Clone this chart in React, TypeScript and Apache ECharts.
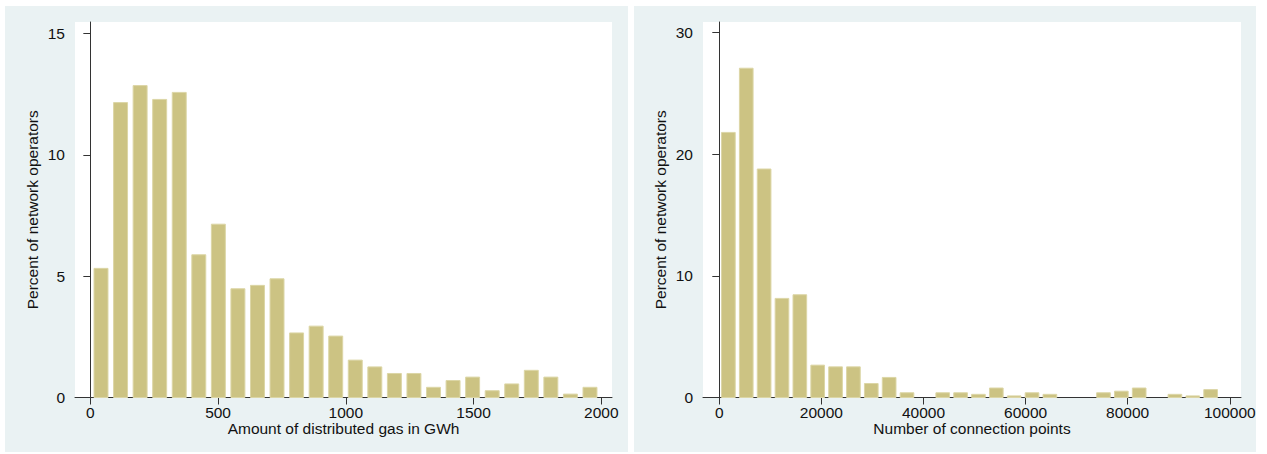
import React, { useEffect, useRef } from "react";
import * as echarts from "echarts";

// Left histogram: amount of distributed gas (GWh)
const gasBinStart = 3.5;
const gasBinWidth = 76.56;
const gasPercent = [
  5.32, 12.15, 12.85, 12.28, 12.57, 5.88, 7.14, 4.48, 4.62, 4.89, 2.66, 2.94, 2.53,
  1.54, 1.26, 0.99, 0.99, 0.42, 0.7, 0.84, 0.28, 0.56, 1.12, 0.84, 0.14, 0.42,
];
const gasXTicks = [0, 500, 1000, 1500, 2000];
const gasYTicks = [0, 5, 10, 15];

// Right histogram: number of connection points
const connBinStart = 33.5;
const connBinWidth = 3499;
const connPercent = [
  21.8, 27.08, 18.79, 8.15, 8.45, 2.66, 2.52, 2.52, 1.15, 1.65, 0.39, 0, 0.39, 0.39,
  0.26, 0.78, 0.13, 0.39, 0.26, 0, 0, 0.39, 0.52, 0.78, 0, 0.26, 0.13, 0.65,
];
const connXTicks = [0, 20000, 40000, 60000, 80000, 100000];
const connYTicks = [0, 10, 20, 30];

const yTitle = "Percent of network operators";
const gasXTitle = "Amount of distributed gas in GWh";
const connXTitle = "Number of connection points";

const FONT = "'Liberation Sans', Arial, Helvetica, sans-serif";
const FS = 15.5;
const TEXT = "#111";
const AXIS = "#333";
const PANEL = "#EAF2F3";
const BAR = "#CCC383";
const BAR_EDGE = "#DCD6A6";

function histData(start: number, width: number, values: number[]) {
  return values.map((v, i) => [start + width * (i + 0.5), v]);
}

function makeRender(binWidth: number, frac: number) {
  return (params: any, api: any) => {
    const c = api.value(0);
    const v = api.value(1);
    if (!v) return null;
    const half = (binWidth * frac) / 2;
    const p0 = api.coord([c - half, v]);
    const p1 = api.coord([c + half, 0]);
    return {
      type: "rect",
      shape: { x: p0[0], y: p0[1], width: p1[0] - p0[0], height: p1[1] - p0[1] },
      style: { fill: BAR, stroke: BAR_EDGE, lineWidth: 1 },
    };
  };
}

const plain = (v: number) => String(v);

function xAxis(gridIndex: number, min: number, max: number, ticks: number[], name: string) {
  return {
    type: "value",
    gridIndex,
    min,
    max,
    name,
    nameLocation: "middle",
    nameGap: 23,
    nameMoveOverlap: false,
    nameTextStyle: { fontSize: FS, lineHeight: FS, color: TEXT, fontFamily: FONT },
    splitLine: { show: false },
    axisLine: { show: true, onZero: false, lineStyle: { color: AXIS, width: 1 } },
    axisTick: { show: true, length: 7, lineStyle: { color: AXIS, width: 1 }, customValues: ticks },
    axisLabel: {
      fontSize: FS,
      lineHeight: FS,
      color: TEXT,
      fontFamily: FONT,
      margin: 7,
      customValues: ticks,
      formatter: plain,
      showMinLabel: true,
      showMaxLabel: true,
      hideOverlap: false,
    },
  };
}

function yAxis(gridIndex: number, max: number, ticks: number[]) {
  return {
    type: "value",
    gridIndex,
    min: 0,
    max,
    name: yTitle,
    nameLocation: "middle",
    nameGap: 35,
    nameMoveOverlap: false,
    nameTextStyle: { fontSize: FS, color: TEXT, fontFamily: FONT },
    splitLine: { show: false },
    axisLine: { show: true, lineStyle: { color: AXIS, width: 1 } },
    axisTick: { show: true, length: 7, lineStyle: { color: AXIS, width: 1 }, customValues: ticks },
    axisLabel: {
      fontSize: FS,
      color: TEXT,
      fontFamily: FONT,
      margin: 10,
      customValues: ticks,
      formatter: plain,
      showMinLabel: true,
      showMaxLabel: true,
    },
  };
}

export default function App() {
  const ref = useRef<HTMLDivElement>(null);

  useEffect(() => {
    if (!ref.current) return;
    const chart = echarts.init(ref.current, null, { renderer: "svg" });
    chart.setOption({
      animation: false,
      backgroundColor: "#ffffff",
      graphic: [
        { type: "rect", z: -100, shape: { x: 5, y: 6, width: 623, height: 446 }, style: { fill: PANEL } },
        { type: "rect", z: -100, shape: { x: 634, y: 6, width: 622, height: 446 }, style: { fill: PANEL } },
      ],
      grid: [
        { left: 75, top: 22, width: 537, height: 375.5, show: true, backgroundColor: "#ffffff", borderWidth: 0 },
        { left: 703, top: 22, width: 538, height: 375.5, show: true, backgroundColor: "#ffffff", borderWidth: 0 },
      ],
      xAxis: [
        xAxis(0, -60, 2042, gasXTicks, gasXTitle),
        xAxis(1, -3191, 102203, connXTicks, connXTitle),
      ],
      yAxis: [yAxis(0, 15.47, gasYTicks), yAxis(1, 30.88, connYTicks)],
      series: [
        {
          type: "custom",
          xAxisIndex: 0,
          yAxisIndex: 0,
          renderItem: makeRender(gasBinWidth, 0.714),
          data: histData(gasBinStart, gasBinWidth, gasPercent),
          encode: { x: 0, y: 1 },
        },
        {
          type: "custom",
          xAxisIndex: 1,
          yAxisIndex: 1,
          renderItem: makeRender(connBinWidth, 0.765),
          data: histData(connBinStart, connBinWidth, connPercent),
          encode: { x: 0, y: 1 },
        },
      ],
    });
    return () => chart.dispose();
  }, []);

  return (
    <div
      ref={ref}
      style={{ position: "fixed", left: 0, top: 0, width: 1267, height: 454, background: "#fff" }}
    />
  );
}
